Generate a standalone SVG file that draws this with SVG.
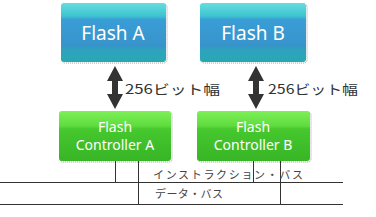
<svg xmlns="http://www.w3.org/2000/svg" width="376" height="217" viewBox="0 0 376 217">
<defs>
<linearGradient id="gBlue" x1="0" y1="0" x2="0" y2="1">
<stop offset="0" stop-color="#66dde0"/>
<stop offset="0.22" stop-color="#3ec4cf"/>
<stop offset="0.28" stop-color="#3a9ed6"/>
<stop offset="0.72" stop-color="#3893cb"/>
<stop offset="0.8" stop-color="#2ea2bd"/>
<stop offset="1" stop-color="#25aab2"/>
</linearGradient>
<linearGradient id="gGreen" x1="0" y1="0" x2="0" y2="1">
<stop offset="0" stop-color="#7ef058"/>
<stop offset="0.3" stop-color="#5fdc3e"/>
<stop offset="0.36" stop-color="#46c82e"/>
<stop offset="1" stop-color="#38b526"/>
</linearGradient>
</defs>
<style>
.shadow{fill:none;stroke:#999;stroke-width:1;stroke-dasharray:1 1}
.t{font-family:"Noto Sans","Liberation Sans",sans-serif;fill:#fff;text-anchor:middle}
.lbl{font-family:"Noto Sans CJK JP","Noto Sans",sans-serif;fill:#333;font-size:13px}
.bus{font-family:"Noto Sans CJK JP",sans-serif;fill:#444;font-size:11px}
.ln{stroke:#333;stroke-width:1;fill:none}
.arr{fill:#333}
</style>
<g id="flashA">
<rect class="shadow" x="62" y="4" width="105" height="59" rx="3"/>
<rect x="61" y="3" width="105" height="59" rx="3" fill="url(#gBlue)"/>
<text class="t" x="113" y="40" font-size="19">Flash A</text>
</g>
<g id="flashB">
<rect class="shadow" x="201" y="4" width="106" height="59" rx="3"/>
<rect x="200" y="3" width="106" height="59" rx="3" fill="url(#gBlue)"/>
<text class="t" x="253" y="40" font-size="19">Flash B</text>
</g>
<g id="ctrlA">
<rect class="shadow" x="60" y="112" width="112" height="50" rx="3"/>
<rect x="59" y="111" width="112" height="50" rx="3" fill="url(#gGreen)"/>
<text class="t" x="115" y="132" font-size="14">Flash</text>
<text class="t" x="115" y="150" font-size="14">Controller A</text>
</g>
<g id="ctrlB">
<rect class="shadow" x="198" y="112" width="113" height="50" rx="3"/>
<rect x="197" y="111" width="113" height="50" rx="3" fill="url(#gGreen)"/>
<text class="t" x="253" y="132" font-size="14">Flash</text>
<text class="t" x="253" y="150" font-size="14">Controller B</text>
</g>
<g id="connectors">
<path class="arr" d="M115 66 L123 81 L118 81 L118 94 L123 94 L115 109 L107 94 L112 94 L112 81 L107 81 Z"/>
<path class="arr" d="M256 66 L264 81 L259 81 L259 94 L264 94 L256 109 L248 94 L253 94 L253 81 L248 81 Z"/>
<line class="ln" x1="0" y1="182.5" x2="343" y2="182.5"/>
<line class="ln" x1="0" y1="204.5" x2="343" y2="204.5"/>
<line class="ln" x1="115.5" y1="161" x2="115.5" y2="182.5"/>
<line class="ln" x1="138.5" y1="161" x2="138.5" y2="204.5"/>
<line class="ln" x1="253.5" y1="161" x2="253.5" y2="182.5"/>
<line class="ln" x1="280.5" y1="161" x2="280.5" y2="204.5"/>
</g>
<g id="labels">
<text class="lbl" x="125" y="94" textLength="95" lengthAdjust="spacingAndGlyphs">256ビット幅</text>
<text class="lbl" x="268" y="94" textLength="90" lengthAdjust="spacingAndGlyphs">256ビット幅</text>
<text class="bus" x="153" y="179" textLength="150">インストラクション・バス</text>
<text class="bus" x="155" y="198" textLength="68">データ・バス</text>
</g>
</svg>
